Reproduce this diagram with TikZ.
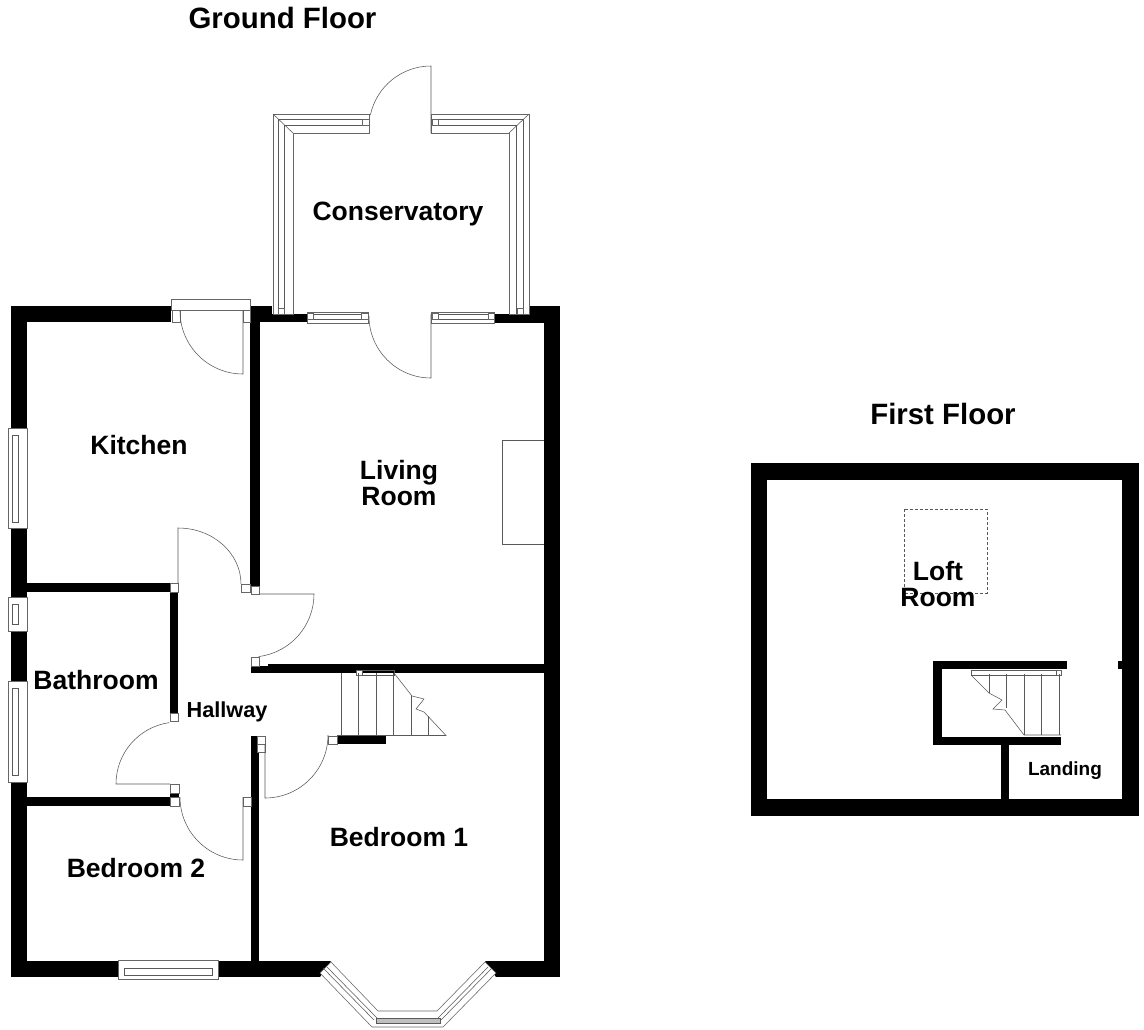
\documentclass[tikz,border=0pt]{standalone}
\usepackage{fontspec}
\setmainfont{Liberation Sans}
\tikzset{
	wall/.style={fill=black, draw=none},
	frameline/.style={draw=black!60, line width=0.55pt, fill=white},
	thinline/.style={draw=black!65, line width=0.55pt},
	floorlabel/.style={font=\fontsize{29.4}{30}\selectfont\bfseries, align=center},
	roomlabel/.style={font=\fontsize{26.5}{26}\selectfont\bfseries, align=center},
	hallwaylabel/.style={font=\fontsize{21.7}{22}\selectfont\bfseries},
	landinglabel/.style={font=\fontsize{19}{20}\selectfont\bfseries}
}
\begin{document}
\begin{tikzpicture}[x=1pt, y=-1pt]
	\useasboundingbox [fill=white] (0, 0) rectangle (1144, 1029);

	\foreach \xa/\ya/\xb/\yb in {
		11/306/171/322, 250/306/272/322, 272/314/307/322, 494/314/529/322, 529/306/560/322,
		494/322/544/323, 544/306/560/977, 11/306/27/428, 11/528/27/597, 11/631/27/681,
		11/782/27/977, 11/961/118/977, 218/961/320/977, 496/961/560/977,
		250/306/260/586, 27/583/170/592, 170/592/178/713, 268/664/544/673, 251/666/268/673,
		251/751/259/961, 251/736/257/751, 337/735/386/744, 27/797/170/806, 170/793/179/797}
		\fill [wall] (\xa, \ya) rectangle (\xb, \yb);
	\fill [wall] (320, 961) -- (331, 961) -- (320, 977) -- cycle;
	\fill [wall] (485, 961) -- (496, 961) -- (496, 977) -- cycle;

	\foreach \xa/\ya/\xb/\yb in {
		751/463/1139/480, 751/463/767/816, 1122/463/1139/816, 751/799/1139/816,
		933/661/1067/669, 933/661/942/745, 933/737/1061/745, 1001/745/1009/799, 1118/661/1122/669}
		\fill [wall] (\xa, \ya) rectangle (\xb, \yb);

	% conservatory frame
	\draw [frameline, fill=none] (369, 114) -- (273, 114) -- (273, 314) -- (293, 314) -- (293, 133) -- (369, 133) -- cycle;
	\draw [thinline] (369, 119) -- (278, 119) -- (278, 314);
	\draw [thinline] (369, 125) -- (284, 125) -- (284, 314);
	\draw [thinline] (273, 114) -- (293, 133);
	\draw [frameline, fill=none] (431, 114) -- (529, 114) -- (529, 314) -- (509, 314) -- (509, 133) -- (431, 133) -- cycle;
	\draw [thinline] (431, 119) -- (523, 119) -- (523, 314);
	\draw [thinline] (431, 125) -- (516, 125) -- (516, 314);
	\draw [thinline] (529, 114) -- (509, 133);

	% windows
	\foreach \xa/\ya/\xb/\yb/\xc/\yc/\xd/\yd in {
		307/312/368/323/313/314/361/319, 431/312/494/323/438/314/488/319,
		118/960/218/979/124/968/212/975,
		8/428/27/528/12/435/18/522, 8/597/27/631/12/604/18/624, 8/681/27/782/12/688/18/775}{
		\draw [frameline] (\xa, \ya) rectangle (\xb, \yb);
		\draw [thinline] (\xc, \yc) rectangle (\xd, \yd);
	}
	\draw [frameline] (171, 299) rectangle (250, 310);

	% jambs
	\foreach \xa/\ya/\xb/\yb in {
		362/119/369/125, 432/119/438/125, 278/308/284/314, 517/308/523/314,
		307/313/313/319, 361/313/368/319, 432/313/438/319, 488/313/494/319,
		172/310/180/322, 243/310/250/322, 241/584/250/592, 251/586/259/594, 170/583/178/592,
		170/713/178/721, 251/657/259/666, 257/736/265/744, 257/744/265/752, 328/736/337/744,
		170/784/179/793, 170/797/179/806, 243/797/251/806, 356/670/362/675,
		1056/670/1061/675}
		\draw [frameline] (\xa, \ya) rectangle (\xb, \yb);

	% doors
	\draw [thinline] (431, 133) -- (431, 66) arc [start angle=270, end angle=192, radius=62];
	\draw [thinline] (431, 314) -- (431, 378) arc [start angle=90, end angle=180, radius=62];
	\draw [thinline] (243, 310) -- (243, 374) arc [start angle=90, end angle=180, radius=63];
	\draw [thinline] (178, 584) -- (178, 528) arc [start angle=270, end angle=360, x radius=63, y radius=56];
	\draw [thinline] (259, 594) -- (314, 594) arc [start angle=0, end angle=83, radius=63];
	\draw [thinline] (265, 744) -- (265, 798) arc [start angle=90, end angle=0, radius=63];
	\draw [thinline] (170, 784) -- (116, 784) arc [start angle=180, end angle=262, radius=62];
	\draw [thinline] (243, 797) -- (243, 860) arc [start angle=90, end angle=180, radius=63];

	% bay window
	\draw [frameline] (320, 973) -- (372, 1027) -- (443, 1027) -- (496, 973) -- (485, 962) -- (437, 1011) -- (378, 1011) -- (331, 962) -- cycle;
	\draw [thinline] (323, 968) -- (374, 1020);
	\draw [thinline] (327, 967) -- (377, 1018);
	\draw [thinline] (492, 968) -- (441, 1020);
	\draw [thinline] (488, 967) -- (438, 1018);
	\draw [thinline, fill=black!25] (376, 1018) rectangle (440, 1023);

	% fireplace and hatch
	\draw [thinline] (544, 440) -- (502, 440) -- (502, 544) -- (544, 544);
	\draw [thinline, densely dashed, line width=0.45pt] (904, 509) rectangle (987, 593);

	% stairs, ground floor
	\foreach \stepx in {341, 358.7, 376, 393.7, 411.3, 428.7}
		\draw [thinline] (\stepx, 673) -- (\stepx, 735);
	\fill [white] (411.5, 673) -- (394, 673) -- (412, 696) -- (424, 699) -- (416, 709) -- (424, 712) -- (446, 735) -- (446, 673) -- cycle;
	\draw [thinline] (411.3, 696) -- (411.3, 735);
	\draw [thinline] (428.7, 716) -- (428.7, 735);
	\draw [thinline] (394, 673) -- (412, 696) -- (424, 699) -- (416, 709) -- (424, 712) -- (446, 735.5) -- (337, 735.5);
	\draw [thinline] (362, 670) rectangle (394, 675);

	% stairs, first floor
	\foreach \stepx/\stepy in {989/693, 1006.7/708, 1024/735, 1041.7/735, 1059/735}
		\draw [thinline] (\stepx, 674) -- (\stepx, \stepy);
	\draw [thinline] (971, 675) -- (989, 693) -- (1002, 700) -- (993, 709) -- (1005, 710) -- (1024, 735) -- (1061, 735);
	\draw [thinline] (971, 670) rectangle (1056, 675);

	\node [floorlabel] (groundfloor) at (282.5, 18) {Ground Floor};
	\node [floorlabel] (firstfloor) at (943, 414) {First Floor};
	\node [roomlabel] (conservatory) at (398, 214) {Conservatory};
	\node [roomlabel] (kitchen) at (139, 445) {Kitchen};
	\node [roomlabel] (livingroom) at (399, 483) {Living\\Room};
	\node [roomlabel] (bathroom) at (96, 680) {Bathroom};
	\node [hallwaylabel] (hallway) at (227, 712) {Hallway};
	\node [roomlabel] (bedroomone) at (399, 837) {Bedroom 1};
	\node [roomlabel] (bedroomtwo) at (136, 868) {Bedroom 2};
	\node [roomlabel] (loftroom) at (938, 584) {Loft\\Room};
	\node [landinglabel] (landing) at (1065, 771) {Landing};
\end{tikzpicture}
\end{document}
